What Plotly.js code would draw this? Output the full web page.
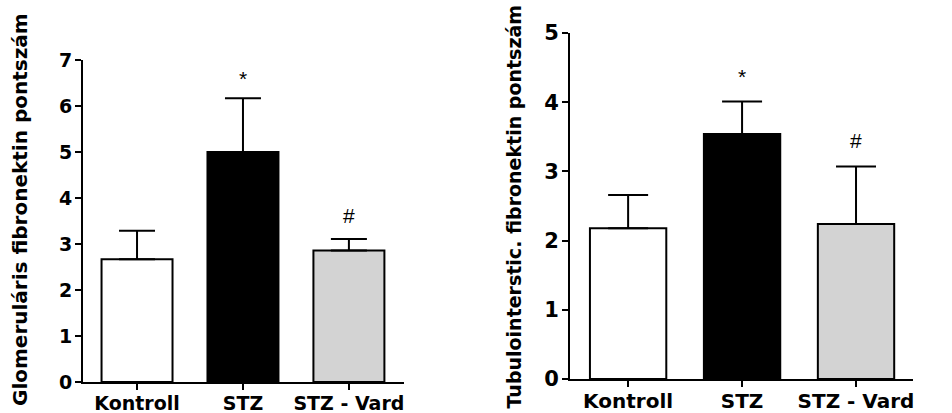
<!DOCTYPE html>
<html>
<head>
<meta charset="utf-8">
<script src="https://cdn.plot.ly/plotly-3.0.1.min.js"></script>
<style>html,body{margin:0;padding:0;background:#fff;}#chart{width:952px;height:413px;}</style>
</head>
<body>
<div id="chart"></div>
<script>
// Data
var categories = ['Kontroll', 'STZ', 'STZ - Vard'];
var glomMean = [2.67, 5.0, 2.86];
var glomErr = [0.62, 1.17, 0.25];
var tubMean = [2.18, 3.54, 2.24];
var tubErr = [0.48, 0.47, 0.83];
var signif = ['', '*', '#'];
var barColors = ['#ffffff', '#000000', '#d3d3d3'];
var glomTitle = 'Glomeruláris fibronektin pontszám';
var tubTitle = 'Tubulointerstic. fibronektin pontszám';

var boldFont = function (s) { return {family: 'DejaVu Sans, Arial, sans-serif', size: s, color: '#000', weight: 'bold'}; };

function barTrace(mean, err, xa, ya, capw) {
  return {
    type: 'bar', x: categories, y: mean, xaxis: xa, yaxis: ya,
    marker: {color: barColors, line: {color: '#000', width: 2}},
    error_y: {type: 'data', symmetric: false, array: err, arrayminus: err.map(function(){return 0;}),
              color: '#000', thickness: 2, width: capw, visible: true},
    showlegend: false, hoverinfo: 'skip'
  };
}

var data = [barTrace(glomMean, glomErr, 'x', 'y', 18), barTrace(tubMean, tubErr, 'x2', 'y2', 20)];

var annotations = [];
function addSig(mean, err, xr, yr, shifts) {
  for (var i = 0; i < categories.length; i++) {
    if (!signif[i]) continue;
    annotations.push({x: categories[i], y: mean[i] + err[i], xref: xr, yref: yr,
      text: signif[i], showarrow: false, yanchor: 'bottom', yshift: shifts[signif[i]],
      font: {family: 'Arial, Liberation Sans, sans-serif', size: 21, color: '#000'}});
  }
}
addSig(glomMean, glomErr, 'x', 'y', {'*': 6, '#': 10});
addSig(tubMean, tubErr, 'x2', 'y2', {'*': 12, '#': 13});

annotations.push({text: glomTitle, xref: 'paper', yref: 'paper', x: 20/952, y: 0.4915,
  textangle: -90, showarrow: false, xanchor: 'center', yanchor: 'middle', font: boldFont(20)});
annotations.push({text: tubTitle, xref: 'paper', yref: 'paper', x: 513/952, y: 0.5,
  textangle: -90, showarrow: false, xanchor: 'center', yanchor: 'middle', font: boldFont(19)});

function xAxis(dom, anchor, range, fs) {
  return {domain: dom, anchor: anchor, range: range, showline: true, linecolor: '#000', linewidth: 2,
    ticks: 'outside', ticklen: 6, tickwidth: 2, tickcolor: '#000', showgrid: false, zeroline: false,
    tickfont: boldFont(fs), fixedrange: true, ticklabelstandoff: -3};
}
function yAxis(dom, anchor, range, dtick, fs) {
  return {domain: dom, anchor: anchor, range: range, dtick: dtick, tick0: 0, showline: true, linecolor: '#000', linewidth: 2,
    ticks: 'outside', ticklen: 6, tickwidth: 2, tickcolor: '#000', showgrid: false, zeroline: false,
    tickfont: boldFont(fs), fixedrange: true, ticklabelstandoff: -1};
}

var layout = {
  width: 952, height: 413,
  margin: {l: 0, r: 0, t: 0, b: 0},
  paper_bgcolor: '#fff', plot_bgcolor: '#fff',
  bargap: 0.33,
  xaxis: xAxis([83/952, 404/952], 'y', [-0.51, 2.52], 19),
  yaxis: yAxis([31/413, 353/413], 'x', [0, 7], 1, 19),
  xaxis2: xAxis([570/952, 913/952], 'y2', [-0.51, 2.5], 20),
  yaxis2: yAxis([34/413, 380/413], 'x2', [0, 5], 1, 21),
  annotations: annotations
};

Plotly.newPlot('chart', data, layout, {displayModeBar: false, staticPlot: true});
</script>
</body>
</html>
